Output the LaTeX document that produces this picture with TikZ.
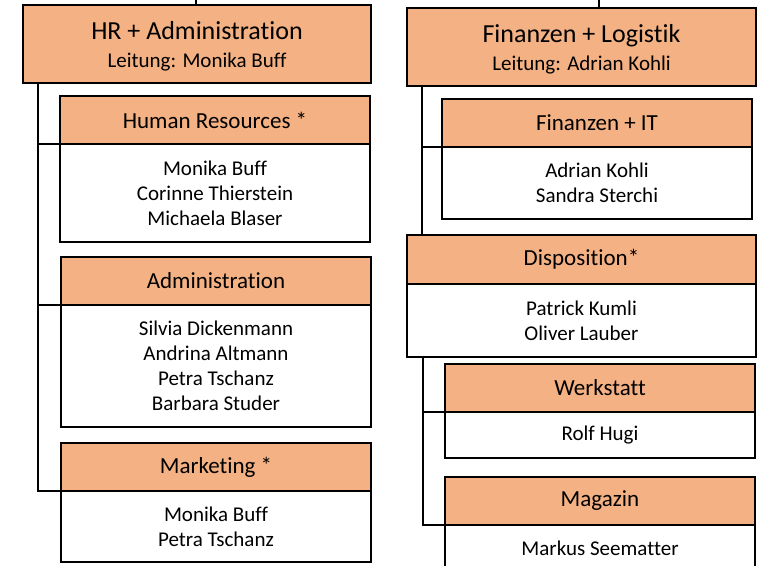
\documentclass[tikz,border=0pt]{standalone}
\usepackage{fontspec}
\setmainfont{Carlito}[Ligatures=NoCommon]
\usetikzlibrary{positioning}
\definecolor{orga}{HTML}{F4B183}
\tikzset{%
	lead/.style  = {draw, rectangle, fill=orga, line width=1.3pt, outer sep=0pt, anchor=north west, minimum width=174pt, minimum height=39pt, text depth=0pt, align=center, font=\fontsize{13}{14}\selectfont}, % Bereich
	head/.style  = {draw, rectangle, fill=orga, line width=1.3pt, outer sep=0pt, anchor=north west, minimum width=155pt, minimum height=24pt, align=center, font=\fontsize{11.5}{14}\selectfont}, % Abteilung
	staff/.style = {draw, rectangle, fill=white, line width=1.3pt, outer sep=0pt, minimum width=155pt, align=center, font=\fontsize{10.5}{12.5}\selectfont}, % Mitarbeitende
	link/.style  = {line width=1.3pt}, % Linie
	stub/.style  = {line width=0.9pt}, % nach oben
}

\begin{document}
\begin{tikzpicture}[x=0.5pt,y=-0.5pt]
		\useasboundingbox (0,0) rectangle (769,566);
		\clip (0,0) rectangle (769,566);
		% HR + Administration
		\node [lead] (hr) at (23,5) {HR + Administration\\[0pt]{\fontsize{10.5}{13}\selectfont Leitung: Monika Buff}};
		\node [head] (res) at (60,96) {Human Resources *};
		\node [staff, minimum height=49pt] (resp) [below=0pt of res] {Monika Buff\\Corinne Thierstein\\Michaela Blaser};
		\node [head] (adm) at (61,257) {Administration};
		\node [staff, minimum height=61pt] (admp) [below=0pt of adm] {Silvia Dickenmann\\Andrina Altmann\\Petra Tschanz\\Barbara Studer};
		\node [head] (mkt) at (61,443) {Marketing *};
		\node [staff, minimum height=35.5pt] (mktp) [below=0pt of mkt] {Monika Buff\\Petra Tschanz};
		% Finanzen + Logistik
		\node [lead, minimum width=174.5pt] (fl) at (407,8) {Finanzen + Logistik\\[0pt]{\fontsize{10.5}{13}\selectfont Leitung: Adrian Kohli}};
		\node [head] (fit) at (442,99) {Finanzen + IT};
		\node [staff, minimum height=36pt] (fitp) [below=0pt of fit] {Adrian Kohli\\Sandra Sterchi};
		\node [head, minimum width=174.5pt, minimum height=24.5pt] (dis) at (407,235) {Disposition*};
		\node [staff, minimum width=174.5pt, minimum height=36.5pt] (disp) [below=0pt of dis] {Patrick Kumli\\Oliver Lauber};
		\node [head] (wst) at (445,364) {Werkstatt};
		\node [staff, minimum height=23pt] (wstp) [below=0pt of wst] {Rolf Hugi};
		\node [head] (mag) at (445,477) {Magazin};
		\node [staff, minimum height=23pt] (magp) [below=0pt of mag] {Markus Seematter};
		% Linien
		\coordinate (hrl) at ([xshift=7.5pt]hr.south west);
		\coordinate (fll) at ([xshift=7.5pt]fl.south west);
		\coordinate (disl) at ([xshift=8pt]disp.south west);
		\coordinate (hrup) at (196,0);
		\coordinate (flup) at (599,0);
		\draw[link] (hrl) |- (res.south west);
		\draw[link] (hrl) |- (adm.south west);
		\draw[link] (hrl) |- (mkt.south west);
		\draw[link] (fll) |- (fit.south west);
		\draw[link] (fll) -- (fll |- dis.north);
		\draw[link] (disl) |- (wst.south west);
		\draw[link] (disl) |- (mag.south west);
		\draw[stub] (hrup) -- (hrup |- hr.north);
		\draw[stub] (flup) -- (flup |- fl.north);
	\end{tikzpicture}
\end{document}
